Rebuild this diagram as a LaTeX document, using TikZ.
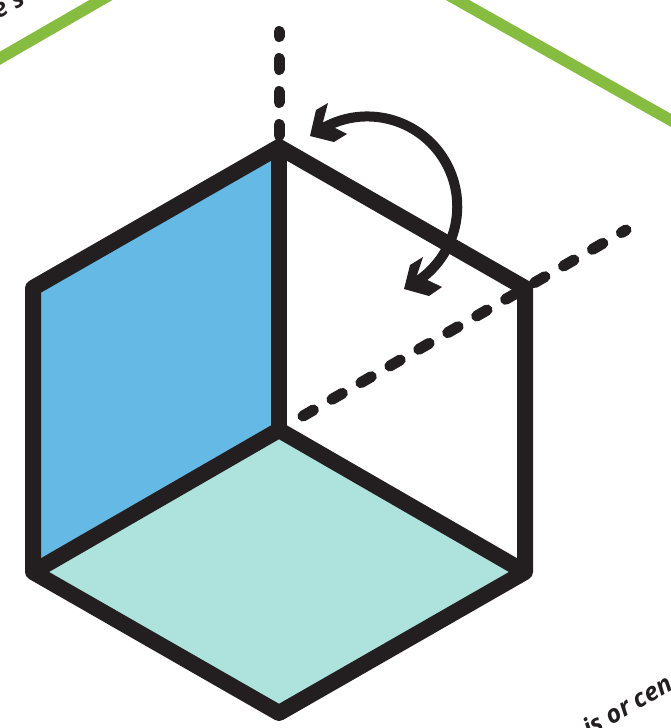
\documentclass[tikz,border=0pt]{standalone}
\usepackage{fontspec}
\setmainfont{Open Sans}
\definecolor{inkdark}{HTML}{231F20}
\definecolor{faceblue}{HTML}{65BAE5}
\definecolor{faceteal}{HTML}{ADE3DC}
\definecolor{edgegreen}{HTML}{86BC40}
\tikzset{
edgeline/.style={draw=inkdark, line width=16pt, line join=round},
axisline/.style={draw=inkdark, line width=11pt, line cap=round, dash pattern=on 12pt off 21.4pt},
turnline/.style={draw=inkdark, line width=10pt},
turnhead/.style={fill=inkdark},
borderline/.style={draw=edgegreen, line width=11.5pt},
cuttext/.style={font=\bfseries\itshape\fontsize{25}{25}\selectfont, text=inkdark, rotate=30, inner sep=0pt}
}
\begin{document}
\begin{tikzpicture}[x=1pt,y=-1pt]
\clip (0,0) rectangle (671,728);
% cube corners
\coordinate (top) at (279,147);
\coordinate (lefttop) at (33,288);
\coordinate (leftbottom) at (33,572);
\coordinate (bottom) at (279,713);
\coordinate (rightbottom) at (525,572);
\coordinate (righttop) at (525,288);
\coordinate (centre) at (279,430);
% green frame
\draw[borderline] (-10,64) -- (120,-11);
\draw[borderline] (438,-11) -- (681,126);
% cut text
\node[cuttext, anchor=base east] (textleft) at (27,3) {e s};
\node[cuttext, anchor=base west] (textright) at (589,738) {is or cen};
% faces
\fill[faceblue] (top) -- (lefttop) -- (leftbottom) -- (centre) -- cycle;
\fill[faceteal] (centre) -- (leftbottom) -- (bottom) -- (rightbottom) -- cycle;
% axes
\draw[axisline, dash pattern=on 11pt off 22pt, dash phase=6pt] (279,31.5) -- (top);
\draw[axisline] (303,416) -- (626,230);
% edges
\draw[edgeline] (top) -- (lefttop) -- (leftbottom) -- (bottom) -- (rightbottom) -- (righttop) -- cycle;
\draw[edgeline] (top) -- (centre);
\draw[edgeline] (leftbottom) -- (centre) -- (rightbottom);
% turn arrow
\draw[turnline] (325,127) arc[start angle=-118, end angle=54, radius=90];
\fill[turnhead] (310,136) -- (316,110) -- (328,103) -- (323,122) -- (347,134) -- (334,142) -- cycle;
\fill[turnhead] (404,289) -- (410,265) -- (423,257) -- (417,275) -- (442,287) -- (429,296) -- cycle;
\end{tikzpicture}
\end{document}
